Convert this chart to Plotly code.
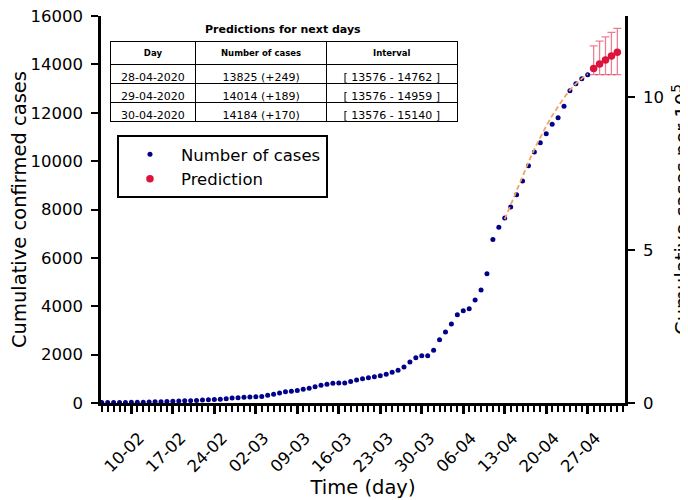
import pandas as pd
import plotly.graph_objects as go

# observed cumulative cases, one per day from 05-02-2020 to 27-04-2020
start_day = "2020-02-05"
cases = [22, 22, 24, 25, 25, 26, 26, 35, 40, 50, 55, 66, 72, 82, 88, 98, 108, 122, 135, 145,
         158, 180, 205, 220, 236, 250, 262, 270, 320, 360, 410, 460, 490, 515, 572, 614, 674,
         738, 779, 814, 822, 825, 890, 951, 1005, 1046, 1082, 1129, 1186, 1269, 1352, 1488,
         1695, 1873, 1955, 1955, 2179, 2617, 2935, 3266, 3650, 3816, 3898, 4258, 4671, 5345,
         6760, 7263, 7648, 8103, 8605, 9177, 9810, 10376, 10761, 11133, 11521, 11794, 12265,
         12910, 13200, 13406, 13576]

# fitted curve (dashed) from 13-04-2020
fit_start = "2020-04-13"
fit = [7600, 8200, 8800, 9400, 9950, 10500, 11000, 11450, 11880, 12270, 12620, 12940,
       13200, 13410, 13600]

# predictions from 28-04-2020
pred_start = "2020-04-28"
pred = [13825, 14014, 14184, 14350, 14500]
pred_low = [13576, 13576, 13576, 13576, 13576]
pred_high = [14762, 14959, 15140, 15320, 15490]

population_1e5 = 1265  # population / 10^5

days = pd.date_range(start_day, periods=len(cases), freq="D")
fit_days = pd.date_range(fit_start, periods=len(fit), freq="D")
pred_days = pd.date_range(pred_start, periods=len(pred), freq="D")

font = "DejaVu Sans"
x_range = ["2020-02-04 21:00", "2020-05-03 07:00"]

fig = go.Figure()

fig.add_trace(go.Scatter(
    x=days, y=cases, mode="markers", name="Number of cases",
    marker=dict(color="#00008b", size=5),
))
fig.add_trace(go.Scatter(
    x=fit_days, y=fit, mode="lines", showlegend=False,
    line=dict(color="#f4a460", width=1.8, dash="5px,3px"),
))
fig.add_trace(go.Scatter(
    x=pred_days, y=pred, mode="markers", name="Prediction",
    marker=dict(color="crimson", size=7.5),
    error_y=dict(
        type="data", symmetric=False,
        array=[h - p for h, p in zip(pred_high, pred)],
        arrayminus=[p - l for p, l in zip(pred, pred_low)],
        color="rgba(220,20,60,0.55)", thickness=1.3, width=4,
    ),
))
# per 10^5 copy on the right axis (invisible), also carries the labelled x axis
fig.add_trace(go.Scatter(
    x=days, y=[c / population_1e5 for c in cases], xaxis="x2", yaxis="y2", mode="markers",
    marker=dict(opacity=0), showlegend=False, hoverinfo="skip",
))

# prediction table
n_tab = 3
tab_day = [d.strftime("%d-%m-%Y") for d in pred_days[:n_tab]]
prev = [cases[-1]] + pred[:n_tab - 1]
tab_cases = [f"{p} (+{p - q})" for p, q in zip(pred[:n_tab], prev)]
tab_int = [f"[ {l} - {h} ]" for l, h in zip(pred_low[:n_tab], pred_high[:n_tab])]

fig.add_trace(go.Table(
    domain=dict(x=[0.0172, 0.681], y=[0.70, 0.933]),
    columnwidth=[86, 131, 131],
    header=dict(
        values=["Day", "Number of cases", "Interval"],
        font=dict(family=font, size=8.5, color="black", weight="bold"),
        fill_color="white", line=dict(color="black", width=1), height=23,
        align="center",
    ),
    cells=dict(
        values=[tab_day, tab_cases, tab_int],
        font=dict(family=font, size=11, color="black"),
        fill_color="white", line=dict(color="black", width=1), height=19,
        align="center",
    ),
))

axis_font = dict(family=font, size=16.5, color="black")
title_font = dict(family=font, size=19.5, color="black")

# the page body adds 8px on the left/top, margins compensate for it
fig.update_layout(
    width=688, height=500,
    margin=dict(l=93, r=71, t=8, b=105),
    paper_bgcolor="white", plot_bgcolor="white",
    font=dict(family=font, color="black"),
    showlegend=True,
    legend=dict(
        x=0.0305, y=0.6925, xanchor="left", yanchor="top",
        bordercolor="black", borderwidth=2, bgcolor="white", itemwidth=52,
        font=dict(family=font, size=16.5, color="black"),
    ),
    # daily (minor) ticks
    xaxis=dict(
        type="date", range=x_range, automargin=False,
        tick0="2020-02-05", dtick=86400000, showticklabels=False,
        ticks="outside", ticklen=6, tickwidth=2, tickcolor="black",
        showline=True, linewidth=2.5, linecolor="black",
        showgrid=False, zeroline=False,
    ),
    # weekly labelled ticks
    xaxis2=dict(
        type="date", range=x_range, overlaying="x", side="bottom", automargin=False,
        tick0="2020-02-10", dtick=7 * 86400000, tickformat="%d-%m",
        tickangle=-45, tickfont=axis_font, ticklabelstandoff=8, ticklabelshift=8,
        ticks="outside", ticklen=10, tickwidth=2.5, tickcolor="black",
        showline=False, showgrid=False, zeroline=False,
        title=dict(text="Time (day)", font=title_font, standoff=3),
    ),
    yaxis=dict(
        range=[0, 16000], dtick=2000, tickformat="d", automargin=False,
        tickfont=axis_font, ticks="outside", ticklen=7, tickwidth=2, tickcolor="black",
        ticklabelstandoff=5, ticklabeloverflow="allow",
        showline=True, linewidth=2.5, linecolor="black",
        showgrid=False, zeroline=False,
        title=dict(text="Cumulative confirmed cases", font=title_font, standoff=9),
    ),
    yaxis2=dict(
        overlaying="y", side="right", automargin=False,
        range=[0, 16000 / population_1e5], tickvals=[0, 5, 10],
        tickfont=axis_font, ticks="outside", ticklen=7, tickwidth=2, tickcolor="black",
        ticklabelstandoff=5, ticklabeloverflow="allow",
        showline=True, linewidth=2.5, linecolor="black",
        showgrid=False, zeroline=False,
        title=dict(text="Cumulative cases per 10<sup>5</sup>", font=title_font, standoff=13),
    ),
    annotations=[dict(
        text="Predictions for next days", xref="paper", yref="paper",
        x=0.347, y=0.964, xanchor="center", yanchor="middle", showarrow=False,
        font=dict(family=font, size=11, color="black", weight="bold"),
    )],
)

fig.write_html("out.html")
